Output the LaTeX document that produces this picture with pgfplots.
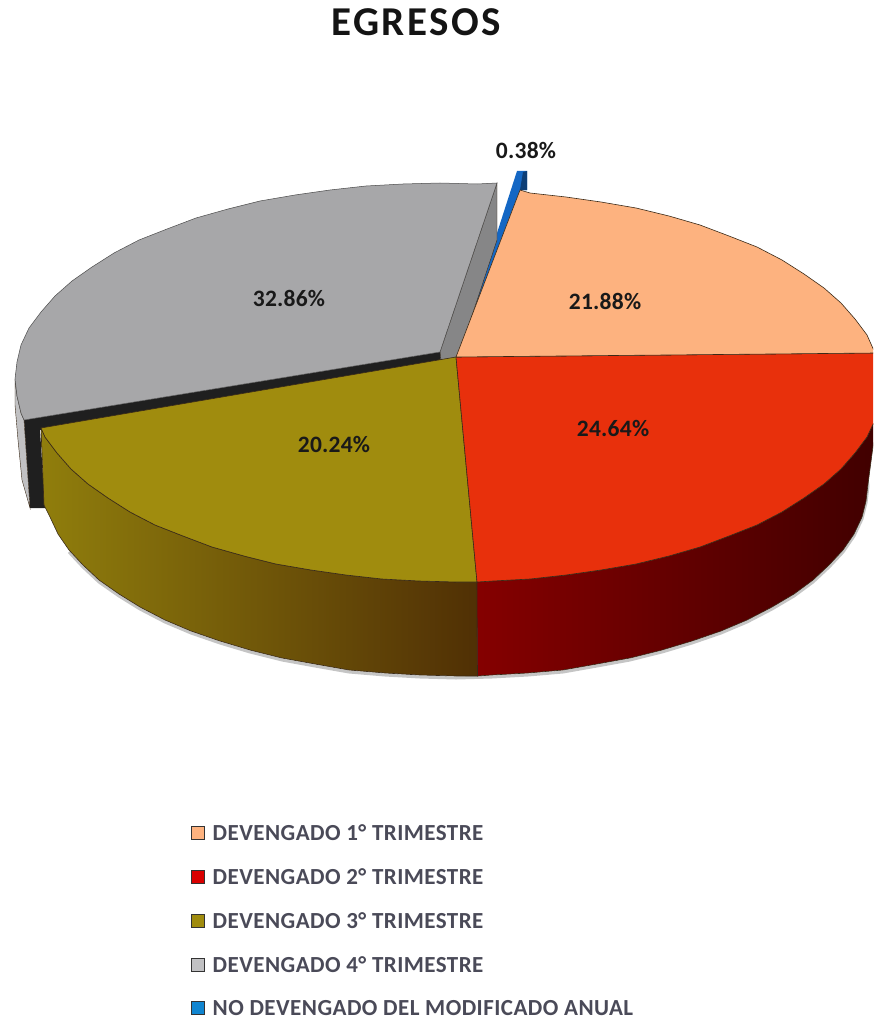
\documentclass[border=0pt]{standalone}
\usepackage{fontspec}
\setmainfont{Carlito}
\usepackage{pgfplots}
\usepackage{pgfplotstable}
\pgfplotsset{compat=1.18}

\definecolor{cOrange}{HTML}{FDB27F}
\definecolor{cRed}{HTML}{E8300C}
\definecolor{cOlive}{HTML}{A08C0E}
\definecolor{cGray}{HTML}{A7A7A9}
\definecolor{cBlue}{HTML}{1467C4}
\definecolor{cEdge}{HTML}{3A2A18}
\definecolor{cText}{HTML}{4A4A58}

% outer edge of the base, used for the soft shadow
\pgfplotstableread{
x y
866 467
868 484
866 501
862 517
854 534
843 550
829 565
813 580
794 594
772 607
747 620
721 631
692 641
662 650
630 658
597 664
563 670
528 673
492 675
456 676
420 675
385 673
349 670
315 664
282 658
250 650
220 641
191 631
165 620
140 607
119 594
99 580
83 565
69 550
}\basearc

\pgfplotsset{
  sec/.style={forget plot, mark=none, line width=0.6pt, draw=cEdge, fill=#1},
}
\tikzset{
  lab/.style={font=\addfontfeatures{LetterSpace=1}\fontsize{23.5}{23.5}\selectfont\bfseries, text=black!90},
}

\begin{document}
\begin{tikzpicture}
\begin{axis}[
  width=873pt, height=1019pt, scale only axis,
  xmin=0, xmax=873, ymin=0, ymax=1019, y dir=reverse,
  hide axis,
  area legend,
  legend cell align=left,
  legend style={
    at={(axis cs:191,822)}, anchor=north west,
    draw=none, fill=none, inner sep=0pt,
    row sep=22.6pt,
    font=\addfontfeatures{LetterSpace=2}\fontsize{23}{23}\selectfont\bfseries,
    text=cText,
  },
  legend image code/.code={
    \draw[#1, line width=1pt] (0pt,-6.5pt) rectangle (13pt,6.5pt);
    \path[draw=none, fill=none] (0pt,0pt) -- (19pt,0pt);
  },
]

% shadow under the base
\addplot[forget plot, mark=none, draw=black!45, line width=3pt, opacity=0.5, yshift=-2pt] table {\basearc};

% blue slice, behind everything
\addplot[sec=cBlue, draw=none] coordinates {(517,171) (527,171) (527,190) (520,190) (476,305) (474,305) (497,233) (517,171)};
\addplot[sec=cBlue!60!black, draw=none] coordinates {(523,172) (527,171) (527,190) (520,190) (523,172)};

% gray slice: side walls
\addplot[sec=cGray!80!black, line width=0.4pt] coordinates {(440,352) (497,183) (497,240) (458,358) (441,360) (440,352)};
\addplot[sec=black!88, draw=none] coordinates {(24,420) (440,352) (441,362) (40,430) (45,508) (30,508) (24,420)};
\addplot[sec=cGray!70!white, line width=0.4pt] coordinates {(15,379) (17,396) (21,413) (24,420) (30,508) (22,480) (18,440) (15,405) (15,379)};

% gray slice: top
\addplot[sec=cGray, line width=0.5pt, draw=black!70] coordinates {
  (440,352) (497,183) (477,184) (440,183) (403,184) (366,186) (330,190) (295,195)
  (260,201) (228,209) (196,218) (167,229) (139,240) (114,253) (92,267) (72,281)
  (55,296) (41,312) (29,328) (21,345) (17,362) (15,379) (17,396) (21,413) (24,420) (440,352)};

% outer walls of olive and red
\addplot[forget plot, mark=none, line width=0.6pt, draw=cEdge, left color=cOlive!90!black, middle color=cOlive!65!black!95!red, right color=cOlive!38!black!90!red] coordinates {
  (41,428) (45,437) (57,453) (71,469) (88,484) (108,498) (130,512) (155,525) (183,536)
  (212,547) (244,556) (276,564) (311,570) (346,575) (382,579) (419,581) (456,582) (477,582)
  (477.5,676) (456,676) (420,675) (385,673) (349,670) (315,664) (282,658) (250,650) (220,641)
  (191,631) (165,620) (140,607) (119,594) (99,580) (83,565) (69,550) (58,534) (50,517) (44,505) (41,428)};
\addplot[forget plot, mark=none, line width=0.6pt, draw=cEdge, left color=red!52!black, right color=red!25!black] coordinates {
  (477,582) (493,581) (530,579) (566,575) (601,570) (636,564) (669,556) (700,547) (729,536)
  (757,525) (782,512) (804,498) (824,484) (841,469) (855,453) (867,437) (875,420) (879,403) (881,386)
  (868,484) (866,501) (862,517) (854,534) (843,550) (829,565) (813,580) (794,594) (772,607) (747,620)
  (721,631) (692,641) (662,650) (630,658) (597,664) (563,670) (528,673) (492,675) (477.5,676) (477,582)};

% top faces
\addplot[sec=cOlive] coordinates {
  (456,357) (477,582) (456,582) (419,581) (382,579) (346,575) (311,570) (276,564) (244,556)
  (212,547) (183,536) (155,525) (130,512) (108,498) (88,484) (71,469) (57,453) (45,437) (41,428) (456,357)};
\addplot[sec=cRed] coordinates {
  (456,357) (875,353) (879,369) (881,386) (879,403) (875,420) (867,437) (855,453) (841,469) (824,484)
  (804,498) (782,512) (757,525) (729,536) (700,547) (669,556) (636,564) (601,570) (566,575)
  (530,579) (493,581) (477,582) (456,357)};
\addplot[sec=cOrange] coordinates {
  (456,357) (520,190) (530,193) (566,197) (601,202) (636,208) (669,216) (700,225) (729,236)
  (757,247) (782,260) (804,274) (824,288) (841,303) (855,319) (867,335) (875,353) (456,357)};

% legend
\addlegendimage{draw=black!80, fill=cOrange}
\addlegendentry{DEVENGADO 1° TRIMESTRE}
\addlegendimage{draw=black!80, fill=red!85!black}
\addlegendentry{DEVENGADO 2° TRIMESTRE}
\addlegendimage{draw=black!80, fill=cOlive}
\addlegendentry{DEVENGADO 3° TRIMESTRE}
\addlegendimage{draw=black!80, fill=cGray!70!white}
\addlegendentry{DEVENGADO 4° TRIMESTRE}
\addlegendimage{draw=black!80, fill=cBlue!80!cyan}
\addlegendentry{NO DEVENGADO DEL MODIFICADO ANUAL}

% title and value labels
\node[font=\addfontfeatures{LetterSpace=6}\fontsize{41}{41}\selectfont\bfseries, text=black!92] at (axis cs:416,22) {EGRESOS};
\node[lab] at (axis cs:526,150) {0.38\%};
\node[lab] at (axis cs:605,301) {21.88\%};
\node[lab] at (axis cs:613,428) {24.64\%};
\node[lab] at (axis cs:334,444) {20.24\%};
\node[lab] at (axis cs:289,298) {32.86\%};

\end{axis}
\pgfresetboundingbox
\useasboundingbox (current axis.south west) rectangle (current axis.north east);
\end{tikzpicture}
\end{document}
